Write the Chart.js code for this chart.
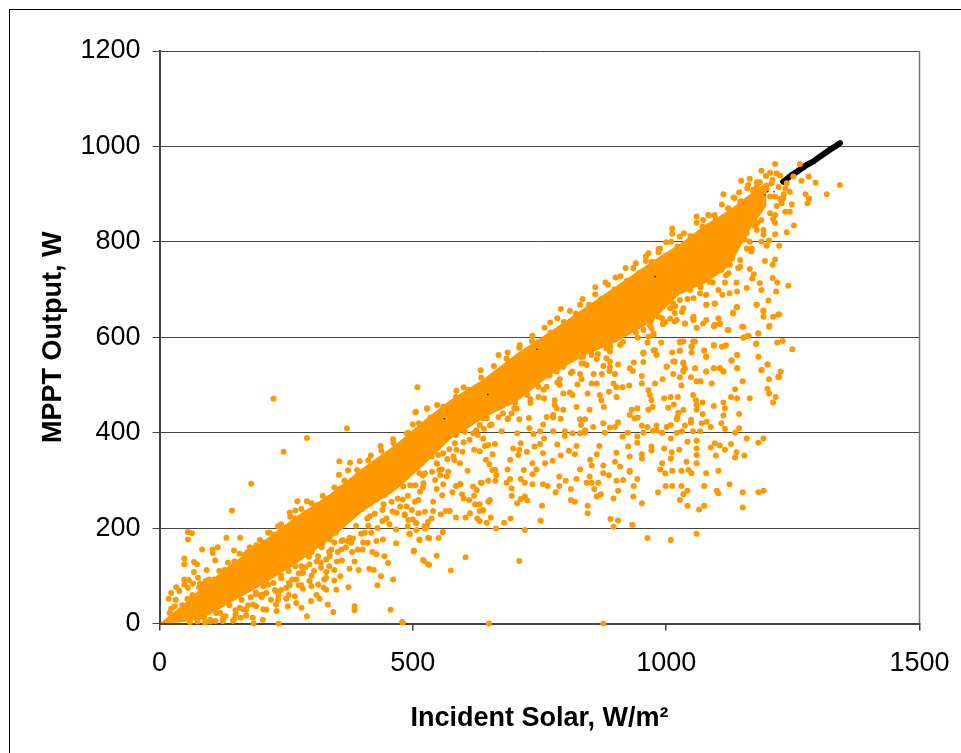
<!DOCTYPE html>
<html>
<head>
<meta charset="utf-8">
<style>html,body{margin:0;padding:0;background:#fff}canvas{display:block}</style>
<script src="https://cdn.jsdelivr.net/npm/chart.js@4"></script>
</head>
<body>
<canvas id="c" width="961" height="753"></canvas>
<script>
const xTitle = "Incident Solar, W/m²";
const yTitle = "MPPT Output, W";
const bandX = [0,40,80,138,204,270,336,401,467,520,573,639,705,771,836,902,968,1027,1080,1126,1165,1198];
const bandUpper = [0,34,72,122,172,225,271,326,376,424,468,512,566,612,660,708,756,796,838,868,900,925];
const bandLower = [0,2,8,42,82,125,175,235,280,330,385,430,465,520,560,590,630,690,715,750,825,875];
const blackLine = [[1231,926],[1245,938],[1258,947],[1277,961],[1290,968],[1304,979],[1323,993],[1335,1001],[1343,1007]];
const blackSpecks = [[978,727],[1213,905],[648,480],[562,429],[1195,898],[1200,905],[745,575]];
const cloud = [[994,629],[1017,633],[1037,629],[1053,640],[1073,629],[1096,626],[1106,629],[1123,615],[1132,650],[1152,622],[1182,608],[1203,622],[1221,647],[1192,654],[1178,668],[1140,663],[1096,670],[1080,668],
[944,599],[965,601],[975,605],[963,589],[990,589],[1027,589],[1034,591],[1053,591],[1050,580],[1094,584],[1110,580],[1118,583],[1152,599],[1162,603],[1178,587],[1219,589],[1230,592],[1249,575],[955,568],[975,573],[981,563],[1012,568],[1027,571],[1050,568],[1075,572],[1079,559],[1140,563],[1182,559],
[830,559],[853,563],[863,554],[882,556],[889,549],[905,543],[936,547],[955,548],[833,545],[843,542],[876,540],[889,538],[815,528],[830,523],[857,523],[873,523],[888,529],[899,523],[928,535],[934,529],[952,519],[1001,538],[1017,549],[1034,547],[1057,535],[1037,535],[1034,528],[1014,523],[1027,516],[1049,516],[1060,508],[1068,508],[1079,528],[1094,535],[1106,535],[1113,528],[1129,551],[1140,535],[1188,531],[1200,543],[1226,528],[1223,516],[1203,512],[1151,508],[1090,503],[1030,499],[993,512],[978,503],[952,503],[927,499],[914,495],[902,495],[896,503],[863,503],[853,503],[833,512],[825,501],[790,512],[797,482],[810,484],[815,479],[845,482],
[965,489],[968,479],[971,468],[887,486],[902,475],[869,479],[872,468],[877,454],[996,472],[1009,475],[1023,475],[1053,479],[1059,468],[1072,463],[1060,458],[1060,448],[1136,491],[1128,475],[1140,472],[1165,472],[1200,492],[1203,482],[1216,475],[1211,463],[1113,463],[1094,456],[1116,451],[1015,459],[1004,452],[1034,448],[1024,442],
[973,454],[965,448],[943,451],[932,448],[928,437],[938,430],[944,432],[823,454],[849,448],[797,448],[784,451],[777,437],[777,432],[764,433],[792,429],[729,431],[710,428],[687,428],[695,440],[702,462],[732,462],[748,475],[759,472],[780,468],[780,458],
[830,428],[840,428],[832,416],[840,405],[856,412],[876,420],[889,411],[899,412],[905,422],[952,415],[963,412],[981,415],[1001,412],[1009,416],[1021,428],[1022,433],[1049,427],[1049,421],[1037,415],[1021,400],[1031,403],[1053,403],[1067,403],[1070,420],[1080,423],[1088,412],[1072,439],[1113,436],[1144,439],[1109,420],[1116,408],[1144,409],[1136,400],
[974,404],[981,404],[992,400],[1009,388],[955,400],[924,400],[943,392],[914,392],[879,400],[840,400],[830,399],[815,399],[800,403],[800,393],[777,403],[757,417],[751,403],[759,388],[751,376],[738,397],[730,409],[706,399],[675,403],[655,417],[639,388],[662,376],[649,374],
[698,367],[713,378],[710,364],[725,360],[740,371],[785,375],[808,362],[820,355],[823,372],[868,372],[863,355],[850,343],[853,331],[792,352],[757,357],[761,336],[776,341],[736,336],[744,323],[719,322],[687,323],[692,343],[708,353],[657,355],[644,343],[651,334],[657,322],[608,320],[621,364],[632,361],[642,372],
[902,358],[899,339],[909,329],[928,318],[925,371],[928,350],[943,379],[952,355],[952,346],[971,371],[971,362],[996,367],[1011,359],[1009,346],[1026,364],[1042,381],[1060,383],[1060,367],[1060,353],[1060,336],[1040,339],[992,336],[988,323],[998,315],[1012,320],[1030,320],[1044,322],[1050,315],[1079,315],[1103,320],[1098,352],[1088,369],[1096,378],[1106,373],[1116,364],[1128,376],[1139,359],[1136,348],[1154,352],[1159,388],[1182,379],[1192,388],
[830,323],[849,308],[876,331],[876,315],[887,311],[902,299],[915,301],[928,320],[943,303],[936,288],[905,278],[896,262],[935,266],[952,252],[984,275],[999,288],[1012,288],[1030,288],[1042,278],[1034,271],[1027,259],[1042,247],[1065,239],[1075,247],[1075,288],[1100,278],[1103,273],[1125,292],[1151,275],[1151,243],[1182,275],[1192,278],
[823,303],[802,299],[789,308],[789,288],[782,275],[766,288],[757,292],[812,282],[812,259],[820,255],[845,247],[845,231],[843,295],[853,295],[866,295],[858,282],[871,271],[863,266],[890,219],[905,216],[896,203],[933,207],[963,179],[1009,175],[1060,188],
[755,247],[752,216],[721,196],[710,131],[664,199],[693,220],[680,211],[654,222],[646,211],[604,139],[575,111],[532,123],[522,131],[547,142],[502,151],[551,179],[532,179],[513,175],[494,187],[559,192],[527,203],[726,258],[713,261],[721,266],[706,252],[695,268],[695,283],[685,295],[692,303],[713,303],[721,295],[736,292],[736,313],[663,299],[649,299],[636,295],[665,311],[663,322],[652,259],[649,255],[623,250],[632,250],[639,238],[632,236],[627,220],[632,215],[613,231],[604,222],[585,222],[573,236],[565,236],[555,229],[540,236],[597,271],[600,262],[611,259],[621,268],[626,280],[619,287],[634,295],[594,292],[585,288],[578,275],[560,292],[547,282],[558,269],[540,255],[514,276],[504,255],[511,259],[488,245],[498,238],[511,231],[524,234],[484,227],[491,217],[507,210],[537,220],[530,213],[524,199],[507,196],
[480,2],[650,0],[876,0]];
const lowerLeft = [[291,389],[370,409],[245,360],[181,293],[143,237],[56,192],[64,189],[56,176],[84,155],[105,155],[105,148],[115,160],[132,180],[159,180],[147,153],[110,132],[49,136],[49,124],[68,129],[74,124],[93,112],[68,108],[76,96],[49,92],[58,91],[49,82],[66,84],[80,84],[91,89],[33,76],[23,64],[18,52],[39,68],[56,75],[23,31],[32,50],[225,471],
[272,256],[291,256],[257,232],[268,237],[214,190],[234,204],[191,164],[174,150],[355,340],[376,337],[395,340],[417,352],[354,312],[372,321],[436,372],[461,386],[491,400],[500,417],[505,443],[528,451],
[479,3],[456,29],[385,36],[385,28],[343,24],[291,15],[235,0],[186,0],[204,8],[211,29],[231,26],[373,76],[430,80],[461,92],[437,99],[423,112],[414,115],[393,112],[375,115],[357,99],[502,153],[520,133],[530,124],[467,168],[454,208],[490,204],[507,210],[513,176],[523,204],[530,180],[493,188],[500,218],[484,229],
[349,71],[329,71],[324,75],[329,96],[319,117],[329,108],[313,141],[329,134],[336,141],[339,155],[336,176],[359,155],[359,173],[372,173],[378,169],[391,155],[401,155],[411,169],[428,145],[444,141],[451,127],[428,173],[441,176],[467,197],
[296,124],[280,120],[263,127],[283,106],[296,89],[270,92],[257,80],[280,80],[283,73],[313,82],[299,47],[316,52],[267,57],[250,52],[230,68],[211,64],[204,61],[191,36],[171,29],[158,33],[148,10],[184,12],[171,17],[253,36],[270,43],[280,33],[332,40],[234,50],
[90,2],[110,5],[130,15],[150,20],[165,30],[185,40],[200,60],[220,50],[240,70],[255,60],[125,5],[100,8],[145,6],[120,22],[160,12],[205,30],[230,40],[180,55],[345,90],[310,60],[420,150],[385,130],[300,100],[350,130],[405,190],[440,215],[460,235],[480,260],[470,295],[445,270],[410,220],[375,180],[345,170],[320,160],[300,150],[275,105],[255,110],[240,100],[225,85],[205,78],[190,65]];
const fringe = [[1215,963],[1264,963],[1188,949],[1205,945],[1218,944],[1225,939],[1148,928],[1165,932],[1179,925],[1197,938],[1208,923],[1251,937],[1281,937],[1295,924],[1267,928],[1343,919],[1317,900],[1275,900],[1282,891],[1279,881],[1113,900],[1144,904],[1133,893],[1162,919],[1248,879],[1244,863],[1235,863],[1218,875],[1215,856],[1211,848],[1252,834],[1238,820],[1215,816],[1223,792],[1198,792],[1203,803],[1188,800],[1060,853],[1083,856],[1012,828],[1012,817],[1000,799],[965,776],[1215,763],[1195,760],[1210,752],[1165,743],[1173,732],[1170,723],[1185,713],[1210,724],[1219,715],[1241,708],[1188,699],[1217,696],[1159,703],[1139,715],[1116,715],[1103,699],[1111,689],[1125,692],[1140,696],[1079,689],[1096,671],[1079,668],[1139,663],[1179,668],[1202,677],[1132,652],[1192,656],[1192,643],[1223,648],[1211,643],[1103,640],[1079,636],[1054,643],[1037,629],[1060,620],[1094,623],[1106,628],[1121,615],[1150,622],[1204,624],[1182,608],[1154,600],[1162,603],[1177,586],[1116,582],[1094,582],[1075,572],[1027,591],[1140,563],[1079,559],[1027,572],[1129,552],[1200,543],[1188,532],[1221,517],[1140,535],[1106,535],[1113,528],[1094,535],[1079,528],[1057,535],
[1146,748],[1123,734],[1109,741],[1096,734],[1086,716],[1067,713],[1067,692],[1047,699],[1054,682],[1027,678],[1014,671],[1008,661],[1034,661],[1031,653],[1017,651],[1054,636],[1008,639],[1021,636],[998,632],[994,627],[985,643],[971,636],[971,619],[975,608],[955,615],[958,636],[978,573],[955,566],[981,563],[1001,538],[1014,549],[1034,545],[1034,531],[1050,580],[1057,591],
[1027,811],[988,786],[1073,846],[1096,856],[1123,870],[1146,884],[1172,909],[1179,916],[1198,909],[1235,912],[1244,905],[1231,891],[1228,881],[1215,895],[1238,923],[1175,832],[1188,846],[1192,825],[1179,825],[1159,786],[1169,786],[1165,800],[1159,818],[1146,762],[1126,752],[1106,755],
[509,495],[506,444],[528,450],[548,458],[586,488],[600,495],[634,531],[669,563],[687,568],[711,584],[736,603],[771,631],[792,659],[830,668],[860,705],[880,715],[900,725],[920,745],[940,755],[960,770],[985,785],
[513,315],[524,315],[557,323],[570,318],[554,311],[544,301],[567,308],[593,292],[593,336],[580,350],[586,364],[583,378],[603,402],[619,399],[632,416],[655,416],[646,430],[669,433],[688,430],[700,451],[726,479],[748,496],[882,577],[889,570],[909,584],[836,559],[797,538],[784,528],[790,500],[764,496],[521,294],[494,315],[481,287],[504,336],[547,336],[560,357],[550,353],[537,350]];
const edgeUpper = [[20,22],[30,36],[45,38],[55,52],[65,60],[78,76],[88,78],[98,92],[108,92],[118,110],[128,112],[135,128],[148,130],[158,146],[168,144],[178,160],[188,158],[198,175],[208,170],[218,190],[228,186],[240,208],[250,200],[258,224],[268,220],[280,240],[290,232],[300,252],[310,248],[322,268],[332,262],[345,285],[355,282],[365,300],[378,296],[390,322],[400,318],[412,342],[425,335],[438,362],[450,352],[462,378],[475,370],[488,398],[500,392],[512,420],[525,412],[535,432],[548,430],[560,455],[572,450],[585,475],[598,470],[610,490],[622,488],[635,515],[648,505],[660,540],[672,525],[685,555],[698,548],[710,578],[722,568],[735,592],[748,590],[760,620],[772,610],[785,640],[798,632],[810,655],[822,650],[835,680],[848,668],[860,690],[872,680],[885,710],[898,700],[910,728],[922,718],[935,745],[948,735],[960,760],[972,758],[985,778],[998,770],[1010,800],[1022,790],[1035,818],[1048,812],[1060,840],[1072,832],[1085,855],[1098,848],[1110,878],[1122,870],[1135,892],[1148,885],[1160,912],[1172,905],[1185,925],[1198,918],[1210,930],[1222,915],[1232,900],[1205,895],[1225,890]];
const edgeLower = [[60,3],[75,4],[88,12],[100,4],[112,22],[125,10],[138,38],[150,28],[162,50],[175,38],[190,62],[202,55],[215,82],[228,70],[240,95],[255,85],[268,120],[282,108],[295,140],[310,130],[322,170],[335,150],[348,190],[362,175],[375,220],[388,205],[400,240],[415,225],[428,270],[442,250],[455,278],[470,262],[482,310],[495,290],[508,330],[520,310],[535,355],[548,335],[560,385],[572,365],[585,395],[600,380],[612,420],[625,405],[638,430],[652,415],[665,455],[678,440],[692,470],[705,450],[718,490],[732,470],[745,510],[758,490],[770,520],[785,505],[798,550],[812,525],[825,565],[838,545],[850,585],[865,565],[878,595],[890,580],[902,610],[915,590],[928,630],[940,610],[955,640],[968,625],[980,660],[992,640],[1005,690],[1018,665],[1030,700],[1042,680],[1055,725],[1068,705],[1080,735],[1092,715],[1105,755],[1118,730],[1130,765],[1142,745],[1155,805],[1168,780],[1180,840],[1192,815],[1205,860],[1215,840],
[235,60],[250,75],[262,92],[275,80],[288,118],[305,110],[318,128],[335,120],[352,150],[368,160],[382,178],[398,188],[412,205],[425,230],[440,238],[458,255],[475,245],[490,268],[505,290],[520,285],[538,318],[552,322],[568,345],[582,342],[598,360],[612,385],[628,395],[640,408],[300,78],[325,92],[345,112],[360,132],[380,150],[402,170],[418,190],[430,200],[448,220],[468,232]];

const ORANGE = '#FF9900';
const toPts = a => a.map(p => ({x:p[0], y:p[1]}));
const scatterStyle = {backgroundColor:ORANGE, borderColor:ORANGE, pointRadius:3, pointBorderWidth:0, pointHoverRadius:3, showLine:false};

const framePlugin = {
  id:'frame',
  beforeDraw(ch){
    const c = ch.ctx;
    c.save();
    c.fillStyle='#fff'; c.fillRect(0,0,ch.width,ch.height);
    c.strokeStyle='#000'; c.lineWidth=1;
    c.strokeRect(9.5,9.5,960,760);
    c.restore();
  },
  beforeDatasetsDraw(ch){
    const c = ch.ctx, a = ch.chartArea;
    c.save();
    c.strokeStyle='#777'; c.lineWidth=1.5;
    c.beginPath(); c.moveTo(a.right,a.top); c.lineTo(a.right,a.bottom); c.stroke();
    c.restore();
  }
};

new Chart(document.getElementById('c'), {
  type:'scatter',
  data:{datasets:[
    {label:'bandUpper', data:bandX.map((x,i)=>({x,y:bandUpper[i]})), showLine:true, pointRadius:0, borderWidth:0, borderColor:ORANGE, backgroundColor:ORANGE, fill:'+1', order:3},
    {label:'bandLower', data:bandX.map((x,i)=>({x,y:bandLower[i]})), showLine:true, pointRadius:0, borderWidth:0, borderColor:ORANGE, fill:false, order:3},
    {label:'black', data:toPts(blackLine), showLine:true, borderColor:'#000', backgroundColor:'#000', borderWidth:6, borderCapStyle:'round', borderJoinStyle:'round', pointRadius:0, order:5},
    {label:'cloud', data:toPts(cloud), ...scatterStyle, order:2},
    {label:'lowerLeft', data:toPts(lowerLeft), ...scatterStyle, order:2},
    {label:'fringe', data:toPts(fringe), ...scatterStyle, order:2},
    {label:'edgeUpper', data:toPts(edgeUpper), ...scatterStyle, order:2},
    {label:'edgeLower', data:toPts(edgeLower), ...scatterStyle, order:2},
    {label:'specks', data:toPts(blackSpecks), backgroundColor:'#000', borderWidth:0, pointRadius:0.8, showLine:false, order:1}
  ]},
  plugins:[framePlugin],
  options:{
    responsive:false, animation:false, clip:false,
    layout:{autoPadding:false, padding:{top:51,right:41.5,left:0,bottom:0}},
    plugins:{legend:{display:false},tooltip:{enabled:false},title:{display:false}},
    scales:{
      x:{type:'linear',min:0,max:1500,
        afterFit(s){s.height=129.5;s.paddingLeft=0;s.paddingRight=0;},
        ticks:{stepSize:500,color:'#000',font:{family:'"Liberation Sans"',size:27},padding:17,maxRotation:0,callback:v=>String(v)},
        grid:{drawOnChartArea:false,drawTicks:true,tickLength:7,color:'#444',lineWidth:1.5},
        border:{display:true,color:'#444',width:2},
        title:{display:true,text:xTitle,color:'#000',font:{family:'"Liberation Sans"',size:27,weight:'bold'},padding:{top:12,bottom:18}}
      },
      y:{type:'linear',min:0,max:1200,
        afterFit(s){s.width=159.5;s.paddingTop=0;s.paddingBottom=0;},
        ticks:{stepSize:200,color:'#000',font:{family:'"Liberation Sans"',size:27},padding:12,callback:v=>String(v)},
        grid:{drawOnChartArea:true,drawTicks:true,tickLength:7,color:'#444',lineWidth:1},
        border:{display:true,color:'#444',width:2},
        title:{display:true,text:yTitle,color:'#000',font:{family:'"Liberation Sans"',size:27,weight:'bold'},padding:{top:37,bottom:0}}
      }
    }
  }
});
</script>
</body>
</html>
